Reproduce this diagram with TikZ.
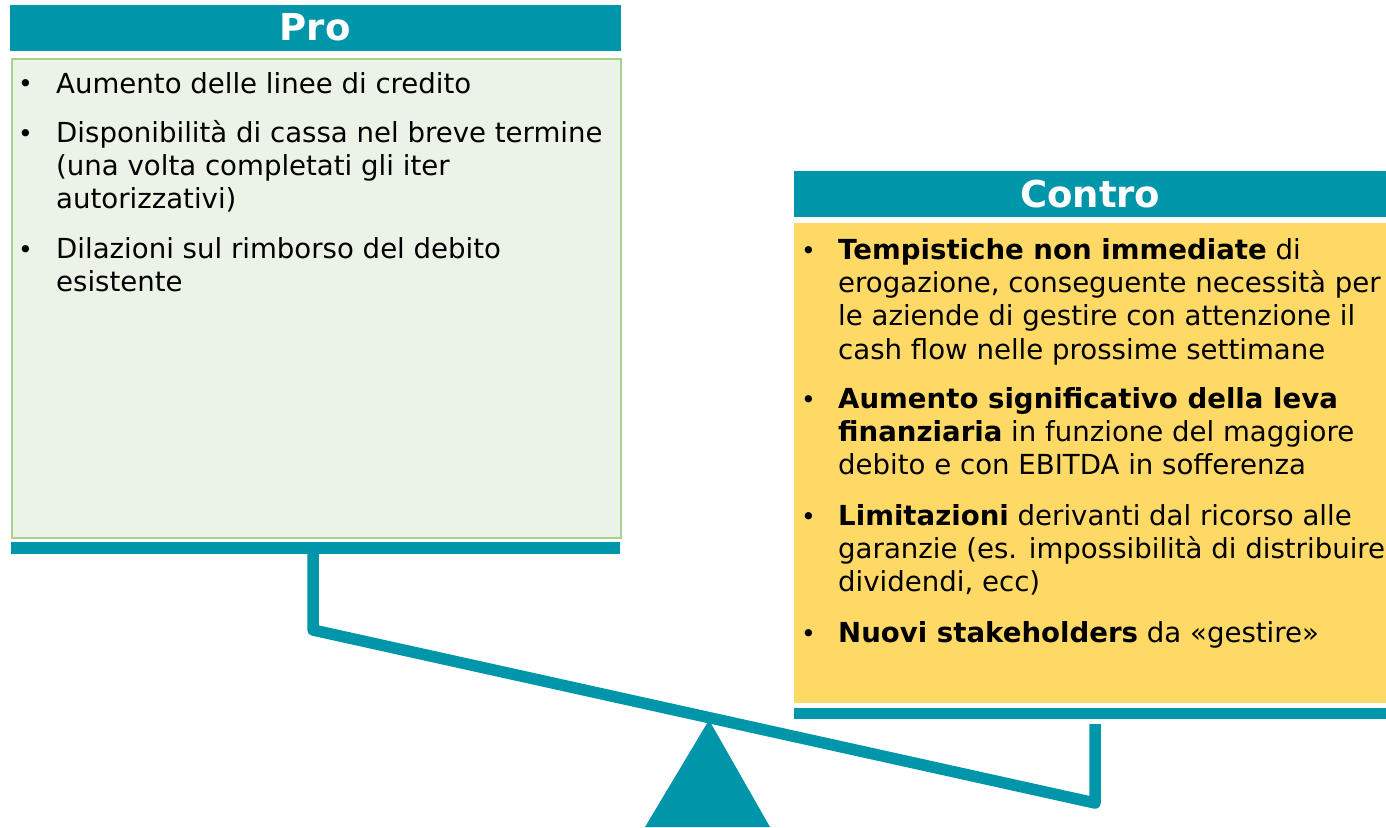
\documentclass[tikz,border=0pt]{standalone}
\usepackage{fontspec}
\setmainfont{DejaVu Sans}
\usetikzlibrary{positioning}
\definecolor{balteal}{RGB}{0,150,169}
\definecolor{progreen}{RGB}{235,243,231}
\definecolor{proedge}{RGB}{169,209,142}
\definecolor{contrayellow}{RGB}{255,217,102}

\begin{document}
\begin{tikzpicture}[x=1pt,y=-1pt,
	head/.style={fill=balteal, text=white, font=\fontsize{37}{40}\selectfont\bfseries, inner sep=0pt, anchor=north west, minimum height=46pt},
	item/.style={font=\fontsize{27.6}{33.3}\selectfont, align=left, inner sep=0pt, anchor=north west},
	bul/.style={font=\fontsize{25}{28}\selectfont, inner sep=0pt, anchor=base west},
	beam/.style={balteal, line width=11.5pt, line join=round}]
				\useasboundingbox (0,0) rectangle (1386,827);
				
				% scale
				\fill [balteal] (645,827) -- (709,720) -- (770,827) -- cycle;
				\draw [beam] (313,550) -- (313,630) -- (1095,803) -- (1095,724);
				\fill [balteal] (11,542) rectangle (620,554);
				\fill [balteal] (794,708) rectangle (1386,719);
				
				% pro
				\node [head, minimum width=611pt] (prohead) at (9.5,4.5) {Pro};
				\node [draw=proedge, line width=2pt, fill=progreen, anchor=north west, minimum width=609pt, minimum height=479pt] (probody) at (10.5,57.5) {};
				
				\node [bul] (pb1) at (18,92) {•};
				\node [item] (pro1) at (56,69) {\rule{0pt}{24pt}Aumento delle linee di credito};
				\node [bul] (pb2) at (18,142) {•};
				\node [item] (pro2) at (56,118) {\rule{0pt}{24pt}Disponibilità di cassa nel breve termine\\(una volta completati gli iter\\autorizzativi)};
				\node [bul] (pb3) at (18,258) {•};
				\node [item] (pro3) at (56,234) {\rule{0pt}{24pt}Dilazioni sul rimborso del debito\\esistente};
				
				% contro
				\node [head, minimum width=592pt] (contrahead) at (794,171) {Contro};
				\node [fill=contrayellow, anchor=north west, minimum width=592pt, minimum height=480pt] (contrabody) at (794,223) {};
				
				\node [bul] (cb1) at (801,259) {•};
				\node [item] (contra1) at (838,235) {\rule{0pt}{24pt}\textbf{Tempistiche non immediate} di\\erogazione, conseguente necessità per\\le aziende di gestire con attenzione il\\cash flow nelle prossime settimane};
				\node [bul] (cb2) at (801,408) {•};
				\node [item] (contra2) at (838,384) {\rule{0pt}{24pt}\textbf{Aumento significativo della leva}\\\textbf{finanziaria} in funzione del maggiore\\debito e con EBITDA in sofferenza};
				\node [bul] (cb3) at (801,525) {•};
				\node [item] (contra3) at (838,501) {\rule{0pt}{24pt}\textbf{Limitazioni} derivanti dal ricorso alle\\garanzie (es. impossibilità di distribuire\\dividendi, ecc)};
				\node [bul] (cb4) at (801,642) {•};
				\node [item] (contra4) at (838,618) {\rule{0pt}{24pt}\textbf{Nuovi stakeholders} da «gestire»};
\end{tikzpicture}
\end{document}
